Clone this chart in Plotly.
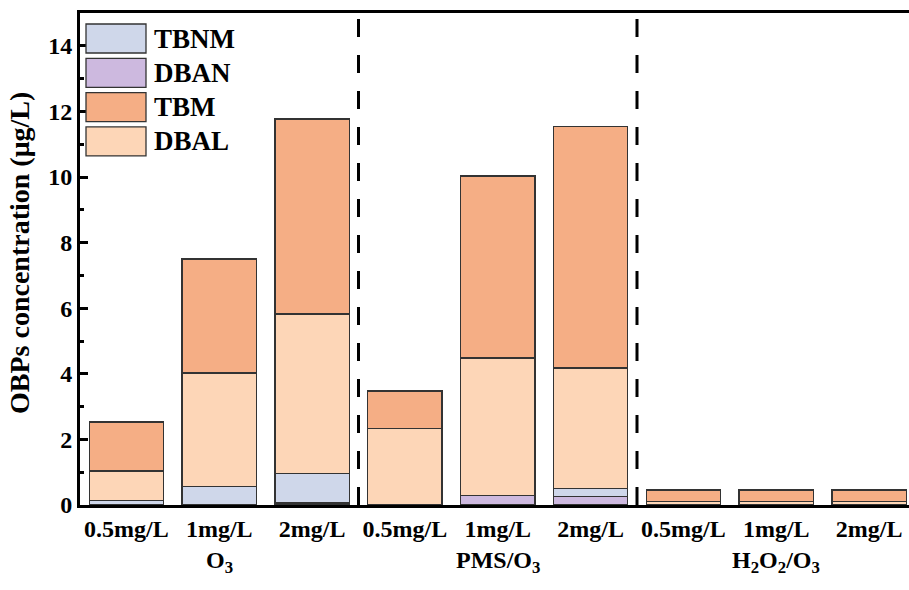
import plotly.graph_objects as go

# Dose levels for each oxidation process
doses = ["0.5mg/L", "1mg/L", "2mg/L"] * 3
processes = ["O<sub>3</sub>", "PMS/O<sub>3</sub>", "H<sub>2</sub>O<sub>2</sub>/O<sub>3</sub>"]

# OBP concentrations (ug/L), stacked bottom to top: DBAN, TBNM, DBAL, TBM
dban = [0.00, 0.00, 0.06, 0.00, 0.28, 0.25, 0.00, 0.00, 0.00]
tbnm = [0.13, 0.56, 0.90, 0.00, 0.00, 0.26, 0.00, 0.00, 0.00]
dbal = [0.91, 3.46, 4.86, 2.33, 4.20, 3.67, 0.10, 0.10, 0.10]
tbm = [1.49, 3.48, 5.95, 1.15, 5.55, 7.37, 0.36, 0.36, 0.36]

colors = {
    "TBNM": "#cfd7ea",
    "DBAN": "#cdb9df",
    "TBM": "#f5ae85",
    "DBAL": "#fdd6b7",
}
stack = [("DBAN", dban), ("TBNM", tbnm), ("DBAL", dbal), ("TBM", tbm)]
legend_order = ["TBNM", "DBAN", "TBM", "DBAL"]

FONT = "Liberation Serif"
W, H = 909, 590
L, R, T, B = 80, 0, 13, 85
plot_w = W - L - R
plot_h = H - T - B

xs = list(range(len(doses)))

fig = go.Figure()
for name, vals in stack:
    fig.add_trace(go.Bar(
        x=xs, y=vals, name=name, width=0.8,
        marker=dict(color=colors[name], line=dict(color="#333333", width=1.3)),
        showlegend=False,
    ))


def px_x(p):
    return (p - L) / plot_w


def px_y(p):
    return (H - B - p) / plot_h


shapes = []
# dashed separators between process groups
for xv in (2.5, 5.5):
    shapes.append(dict(type="line", xref="x", yref="paper", x0=xv, x1=xv, y0=0, y1=1,
                       line=dict(color="black", width=3, dash="18px,18px")))

annotations = []
# legend swatches and labels
box_top = 24
pitch = 34.3
for i, name in enumerate(legend_order):
    y0 = box_top + i * pitch
    y1 = y0 + 29
    shapes.append(dict(type="rect", xref="paper", yref="paper",
                       x0=px_x(86), x1=px_x(146), y0=px_y(y1), y1=px_y(y0),
                       fillcolor=colors[name], line=dict(color="#333333", width=1.3)))
    annotations.append(dict(xref="paper", yref="paper", x=px_x(152), y=px_y((y0 + y1) / 2),
                            xanchor="left", yanchor="middle", showarrow=False, text=name,
                            font=dict(family=FONT, size=27, color="black", weight="bold")))

# process group labels under the dose labels
for i, p in enumerate(processes):
    annotations.append(dict(xref="x", yref="paper", x=3 * i + 1, y=px_y(545),
                            xanchor="center", yanchor="top", showarrow=False, text=p,
                            font=dict(family=FONT, size=24, color="black", weight="bold")))

# y-axis title
annotations.append(dict(xref="paper", yref="paper", x=px_x(19), y=px_y(253),
                        xanchor="center", yanchor="middle", showarrow=False, textangle=-90,
                        text="OBPs concentration (μg/L)",
                        font=dict(family=FONT, size=28, color="black", weight="bold")))

fig.update_layout(
    barmode="stack",
    width=W, height=H,
    margin=dict(l=L, r=R, t=T, b=B, pad=0),
    paper_bgcolor="white", plot_bgcolor="white",
    shapes=shapes, annotations=annotations,
    xaxis=dict(
        range=[-0.5, 8.43], tickmode="array", tickvals=xs, ticktext=doses,
        showline=True, linecolor="black", linewidth=3, mirror=True,
        ticks="", showgrid=False, zeroline=False,
        tickfont=dict(family=FONT, size=24, color="black", weight="bold"),
    ),
    yaxis=dict(
        range=[0, 15], tickmode="linear", tick0=0, dtick=2,
        showline=True, linecolor="black", linewidth=3, mirror=False,
        ticks="inside", ticklen=8, tickwidth=2.5, tickcolor="black",
        minor=dict(ticks="inside", dtick=1, ticklen=4, tickwidth=2.5, tickcolor="black"),
        showgrid=False, zeroline=False,
        tickfont=dict(family=FONT, size=24, color="black", weight="bold"),
    ),
)

fig.write_html("out.html")
